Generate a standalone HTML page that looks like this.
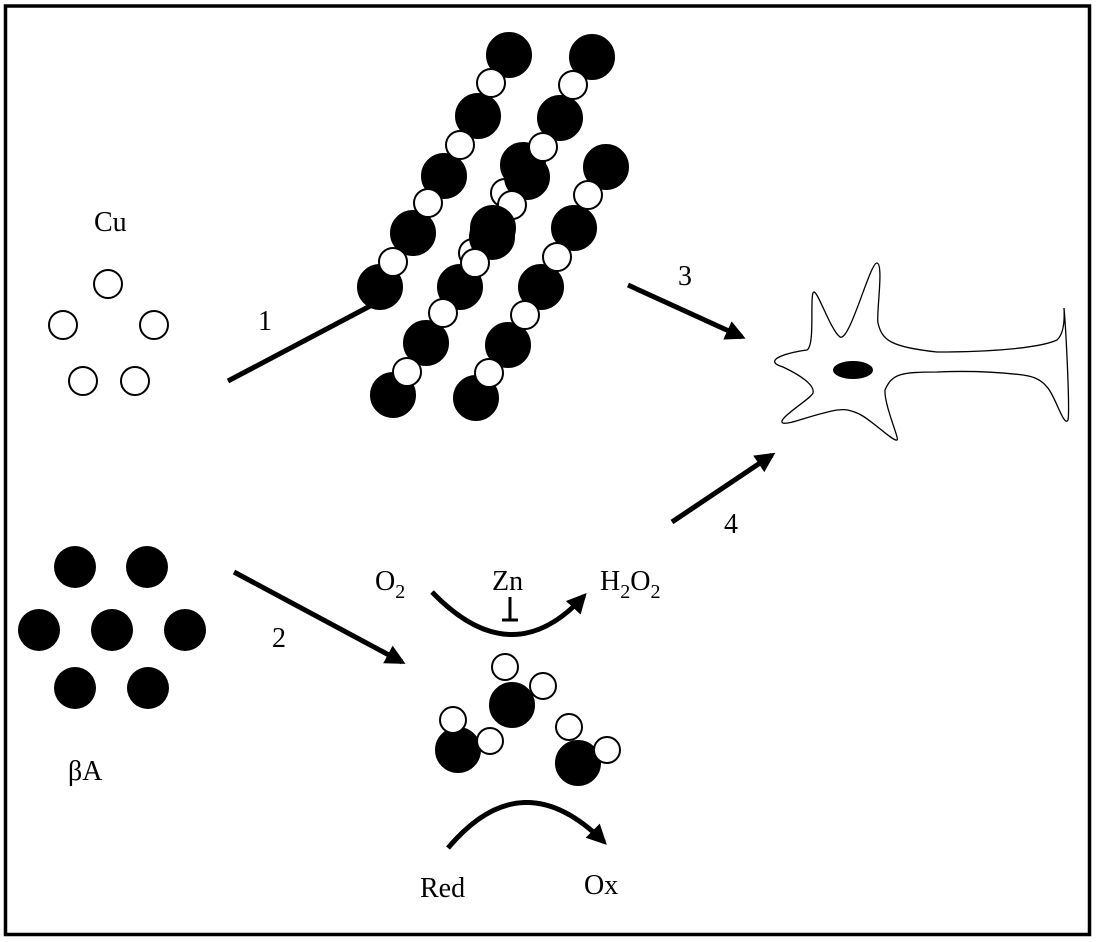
<!DOCTYPE html>
<html><head><meta charset="utf-8"><style>
html,body{margin:0;padding:0;background:#fff;}
svg{display:block}
text{font-family:"Liberation Serif",serif;fill:#000}
</style></head><body>
<svg width="1096" height="942" viewBox="0 0 1096 942" xmlns="http://www.w3.org/2000/svg">
<defs>
<marker id="ah" viewBox="0 0 10 10" refX="8" refY="5" markerWidth="4" markerHeight="4" orient="auto" markerUnits="strokeWidth">
<path d="M0,0 L10,5 L0,10 z" fill="#000"/></marker>
</defs>
<rect x="5.5" y="6" width="1084" height="928.5" fill="none" stroke="#000" stroke-width="3.5"/>

<g font-size="28">
<text x="94" y="231">Cu</text>
<text x="68" y="780">βA</text>
<text x="258" y="330">1</text>
<text x="272" y="647">2</text>
<text x="678" y="285">3</text>
<text x="724" y="533">4</text>
<text x="375" y="590">O<tspan font-size="20" dy="8">2</tspan></text>
<text x="492" y="590">Zn</text>
<text x="600" y="590">H<tspan font-size="20" dy="8">2</tspan><tspan dy="-8">O</tspan><tspan font-size="20" dy="8">2</tspan></text>
<text x="420" y="897">Red</text>
<text x="584" y="894">Ox</text>
</g>

<g fill="#fff" stroke="#000" stroke-width="2">
<circle cx="108" cy="284" r="14"/><circle cx="63" cy="325" r="14"/><circle cx="154" cy="325" r="14"/>
<circle cx="83" cy="381" r="14"/><circle cx="135" cy="381" r="14"/>
</g>
<g fill="#000">
<circle cx="75" cy="567" r="21"/><circle cx="147" cy="567" r="21"/>
<circle cx="39" cy="630" r="21"/><circle cx="112" cy="630" r="21"/><circle cx="185" cy="630" r="21"/>
<circle cx="75" cy="688" r="21"/><circle cx="148" cy="688" r="21"/>
</g>

<g stroke="#000" stroke-width="5" fill="none">
<line x1="228" y1="381" x2="372" y2="305"/>
<line x1="234" y1="572" x2="402" y2="662" marker-end="url(#ah)"/>
<line x1="628" y1="285" x2="742" y2="337" marker-end="url(#ah)"/>
<line x1="672" y1="522" x2="772" y2="455" marker-end="url(#ah)"/>
<path d="M432,592 Q512,675 584,596" marker-end="url(#ah)"/>
<path d="M448,848 Q522,760 604,842" marker-end="url(#ah)"/>
<line x1="510" y1="597" x2="510" y2="619" stroke-width="3"/>
<line x1="502" y1="620" x2="518" y2="620" stroke-width="3"/>
</g>

<!-- fibrils: chain 2 and 3 first (behind), then overlap -->
<g stroke="#000" stroke-width="2">
<!-- chain 3 -->
<circle cx="606" cy="167" r="22" fill="#000"/>
<circle cx="574" cy="228" r="22" fill="#000"/>
<circle cx="541" cy="287" r="22" fill="#000"/>
<circle cx="508" cy="345" r="22" fill="#000"/>
<circle cx="476" cy="398" r="22" fill="#000"/>
<circle cx="588" cy="195" r="14" fill="#fff"/>
<circle cx="557" cy="257" r="14" fill="#fff"/>
<circle cx="525" cy="315" r="14" fill="#fff"/>
<circle cx="489" cy="373" r="14" fill="#fff"/>
<!-- chain 2 -->
<circle cx="592" cy="57" r="22" fill="#000"/>
<circle cx="560" cy="118" r="22" fill="#000"/>
<circle cx="505" cy="193" r="14" fill="#fff"/>
<circle cx="523" cy="165" r="22" fill="#000"/>
<circle cx="527" cy="177" r="22" fill="#000"/>
<circle cx="573" cy="85" r="14" fill="#fff"/>
<circle cx="543" cy="147" r="14" fill="#fff"/>
<circle cx="512" cy="205" r="14" fill="#fff"/>
<circle cx="473" cy="253" r="14" fill="#fff"/>
<circle cx="493" cy="228" r="22" fill="#000"/>
<circle cx="492" cy="237" r="22" fill="#000"/>
<circle cx="460" cy="287" r="22" fill="#000"/>
<circle cx="426" cy="343" r="22" fill="#000"/>
<circle cx="393" cy="395" r="22" fill="#000"/>
<circle cx="475" cy="263" r="14" fill="#fff"/>
<circle cx="443" cy="313" r="14" fill="#fff"/>
<circle cx="407" cy="372" r="14" fill="#fff"/>
<!-- chain 1 -->
<circle cx="509" cy="55" r="22" fill="#000"/>
<circle cx="478" cy="116" r="22" fill="#000"/>
<circle cx="444" cy="176" r="22" fill="#000"/>
<circle cx="413" cy="233" r="22" fill="#000"/>
<circle cx="380" cy="287" r="22" fill="#000"/>
<circle cx="491" cy="83" r="14" fill="#fff"/>
<circle cx="460" cy="145" r="14" fill="#fff"/>
<circle cx="428" cy="203" r="14" fill="#fff"/>
<circle cx="393" cy="262" r="14" fill="#fff"/>
</g>

<!-- complexes -->
<g stroke="#000" stroke-width="2">
<circle cx="512" cy="705" r="22" fill="#000"/>
<circle cx="505" cy="667" r="13" fill="#fff"/><circle cx="543" cy="686" r="13" fill="#fff"/>
<circle cx="458" cy="750" r="22" fill="#000"/>
<circle cx="453" cy="720" r="13" fill="#fff"/><circle cx="490" cy="741" r="13" fill="#fff"/>
<circle cx="578" cy="763" r="22" fill="#000"/>
<circle cx="569" cy="727" r="13" fill="#fff"/><circle cx="607" cy="750" r="13" fill="#fff"/>
</g>

<!-- cell -->
<path d="M783,367 C760,360 790,352 807,350 C815,345 810,300 813,293 C816,285 830,330 840,337 C850,342 870,262 877,263 C884,264 876,315 878,323 C882,340 890,347 937,352 C990,352 1040,348 1057,340 C1066,332 1064,310 1064,308 C1066,330 1070,410 1068,420 C1064,428 1055,395 1047,387 C1040,378 1030,376 1023,375 C990,371 960,371 937,372 C900,372 892,374 885,390 C884,405 900,440 897,440 C893,442 870,418 857,413 C845,408 840,410 837,410 C810,415 790,425 783,423 C775,420 812,398 813,393 C815,385 800,375 783,367 Z" fill="#fff" stroke="#000" stroke-width="1.3"/>
<ellipse cx="853" cy="370" rx="20" ry="9" fill="#000"/>
</svg>
</body></html>
